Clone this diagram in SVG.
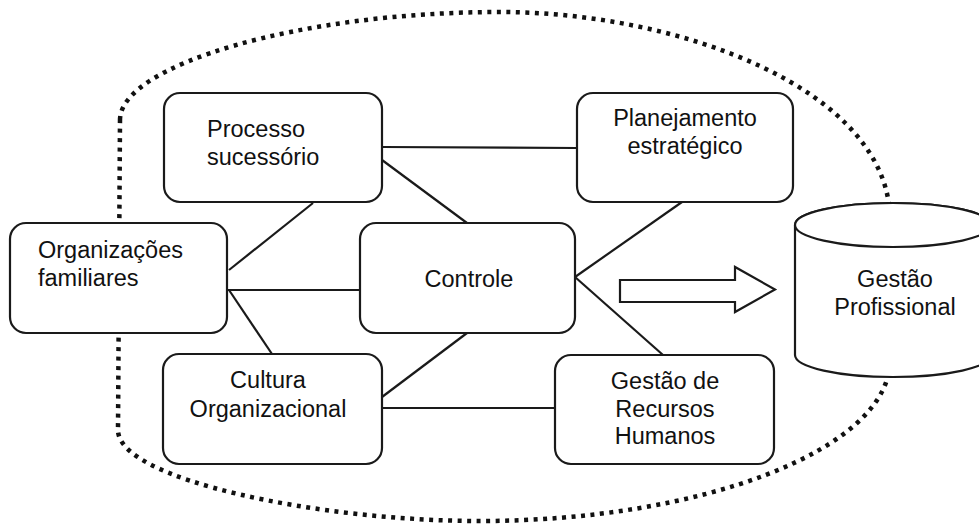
<svg xmlns="http://www.w3.org/2000/svg" width="979" height="526" viewBox="0 0 979 526">
  <style>
    .box { fill: #ffffff; stroke: #1a1a1a; stroke-width: 2.2; }
    .link { stroke: #1a1a1a; stroke-width: 2.2; fill: none; }
    .ring { fill: none; stroke: #111111; stroke-width: 4.5; stroke-dasharray: 4 5.5; }
    .lbl { font-family: "Liberation Sans", Arial, sans-serif; font-size: 23.5px; fill: #111111; }
    .mid { text-anchor: middle; }
  </style>
  <rect width="979" height="526" fill="#ffffff"/>

  <!-- dotted boundary around the whole system -->
  <path class="ring" d="M 120 120 C 120 65, 300 12, 500 12 C 680 12, 890 90, 890 220 L 890 360 C 890 450, 700 521, 480 521 C 320 521, 118 480, 118 430 Z"/>

  <!-- connectors -->
  <g id="connectors">
    <line class="link" x1="382" y1="147" x2="577" y2="148"/>
    <line class="link" x1="382" y1="160" x2="467" y2="223"/>
    <line class="link" x1="313" y1="203" x2="229" y2="270"/>
    <line class="link" x1="227" y1="290" x2="360" y2="290"/>
    <line class="link" x1="229" y1="290" x2="272" y2="354"/>
    <line class="link" x1="382" y1="397" x2="467" y2="333"/>
    <line class="link" x1="382" y1="408" x2="555" y2="408"/>
    <line class="link" x1="575" y1="277" x2="682" y2="202"/>
    <line class="link" x1="575" y1="277" x2="663" y2="355"/>
    <polygon class="link" fill="#ffffff" points="620,280 735,280 735,267 775,289.5 735,312 735,302 620,302"/>
  </g>

  <g id="processo">
    <rect class="box" x="164" y="93" width="218" height="109" rx="16"/>
    <text class="lbl" x="207" y="137">Processo</text>
    <text class="lbl" x="207" y="165">sucessório</text>
  </g>

  <g id="organizacoes">
    <rect class="box" x="10" y="223" width="217" height="110" rx="16"/>
    <text class="lbl" x="38" y="258">Organizações</text>
    <text class="lbl" x="38" y="286">familiares</text>
  </g>

  <g id="controle">
    <rect class="box" x="360" y="223" width="215" height="110" rx="16"/>
    <text class="lbl mid" x="469" y="287">Controle</text>
  </g>

  <g id="planejamento">
    <rect class="box" x="577" y="93" width="216" height="109" rx="16"/>
    <text class="lbl mid" x="685" y="126">Planejamento</text>
    <text class="lbl mid" x="685" y="154">estratégico</text>
  </g>

  <g id="cultura">
    <rect class="box" x="163" y="354" width="219" height="110" rx="16"/>
    <text class="lbl mid" x="268" y="388">Cultura</text>
    <text class="lbl mid" x="268" y="417">Organizacional</text>
  </g>

  <g id="recursos-humanos">
    <rect class="box" x="555" y="355" width="219" height="109" rx="16"/>
    <text class="lbl mid" x="665" y="389">Gestão de</text>
    <text class="lbl mid" x="665" y="417">Recursos</text>
    <text class="lbl mid" x="665" y="444">Humanos</text>
  </g>

  <g id="gestao-profissional">
    <path class="box" d="M 795 225 L 795 355 A 98 22 0 0 0 991 355 L 991 225 A 98 22 0 0 0 795 225 Z"/>
    <ellipse class="box" cx="893" cy="225" rx="98" ry="22"/>
    <text class="lbl mid" x="895" y="287">Gestão</text>
    <text class="lbl mid" x="895" y="315">Profissional</text>
  </g>
</svg>
